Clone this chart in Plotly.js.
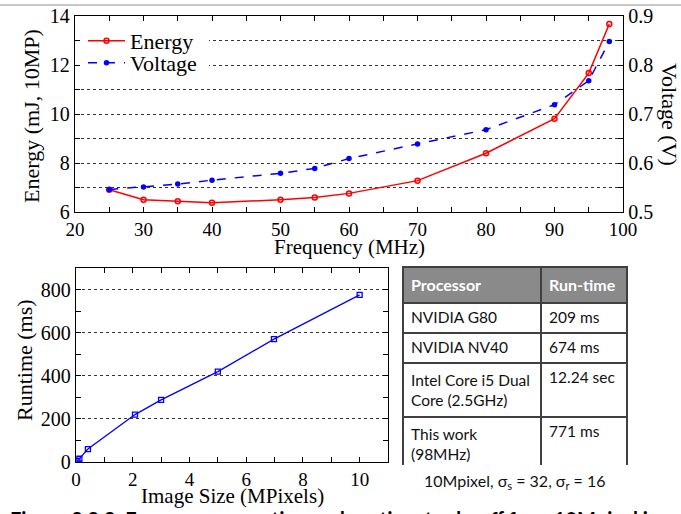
<!DOCTYPE html>
<html>
<head>
<meta charset="utf-8">
<script src="https://cdn.plot.ly/plotly-3.0.1.min.js"></script>
<style>html,body{margin:0;padding:0;background:#fff;}#chart{width:681px;height:514px;}</style>
</head>
<body>
<div id="chart"></div>
<script>
// ---- Data: Energy / Voltage vs Frequency ----
const frequency = [25, 30, 35, 40, 50, 55, 60, 70, 80, 90, 95, 98];
const energy    = [6.91, 6.50, 6.44, 6.38, 6.50, 6.59, 6.76, 7.28, 8.40, 9.81, 11.67, 13.67];
const voltage   = [0.546, 0.551, 0.557, 0.565, 0.579, 0.589, 0.609, 0.639, 0.668, 0.719, 0.768, 0.848];

// ---- Data: Runtime vs Image size ----
const imageSize = [0.05, 0.12, 0.42, 2.08, 3.0, 5.0, 6.98, 10.0];
const runtime   = [5, 15, 60, 220, 288, 419, 570, 775];

// ---- Data: Processor comparison table ----
const tableHeader = ["Processor", "Run-time"];
const processors  = ["NVIDIA G80", "NVIDIA NV40", "Intel Core i5 Dual<br>Core (2.5GHz)", "This work<br>(98MHz)"];
const runtimes    = ["209 ms", "674 ms", "12.24 sec", "771 ms"];

const W = 681, H = 514;
const px = x => x / W;
const py = y => 1 - y / H;

const serif = "Liberation Serif, Times New Roman, serif";
const sans = "Lato, Open Sans, sans-serif";
const TICK = 20, TITLE = 22;

const traces = [
  {
    x: frequency, y: energy, name: "Energy", type: "scatter", mode: "lines+markers",
    xaxis: "x", yaxis: "y", legend: "legend",
    line: {color: "#ff0000", width: 1.5},
    marker: {symbol: "circle-open", size: 5, color: "#ff0000", line: {width: 1.5}}
  },
  {
    x: frequency, y: voltage, name: "Voltage", type: "scatter", mode: "lines+markers",
    xaxis: "x", yaxis: "y2", legend: "legend2",
    line: {color: "#0000ff", width: 1.5, dash: "dash"},
    marker: {symbol: "circle", size: 5.5, color: "#0000ff"}
  },
  {
    x: imageSize, y: runtime, name: "Runtime", type: "scatter", mode: "lines+markers",
    xaxis: "x3", yaxis: "y3", showlegend: false,
    line: {color: "#0000ff", width: 1.3},
    marker: {symbol: "square-open", size: 5, color: "#0000ff", line: {width: 1.3}}
  },
  {
    type: "table",
    domain: {x: [px(403), px(627)], y: [py(466), py(267)]},
    columnwidth: [138, 86],
    header: {
      values: tableHeader.map(h => "<b>" + h + "</b>"),
      align: "left", height: 36,
      fill: {color: "#8a8a8a"},
      line: {color: "#404040", width: 1.3},
      font: {family: sans, size: 16, color: "#ffffff"}
    },
    cells: {
      values: [processors, runtimes],
      align: "left", height: 30,
      fill: {color: "#ffffff"},
      line: {color: "#404040", width: 1.3},
      font: {family: sans, size: 15.5, color: "#111111"}
    }
  }
];

const axisCommon = {
  showline: true, linecolor: "#000", linewidth: 1.3,
  ticks: "inside", ticklen: 5, tickwidth: 1, tickcolor: "#000",
  tickfont: {family: serif, size: TICK, color: "#000"},
  zeroline: false, fixedrange: true
};
const minorTicks = d => ({dtick: d, ticks: "inside", ticklen: 5, tickwidth: 1, tickcolor: "#000", showgrid: false});
const titleFont = {family: serif, size: TITLE, color: "#000"};
const legendCommon = {
  xanchor: "left", yanchor: "top", bgcolor: "rgba(0,0,0,0)", borderwidth: 0,
  font: titleFont, itemwidth: 37
};

const layout = {
  width: W, height: H,
  margin: {l: 0, r: 0, t: 0, b: 0},
  paper_bgcolor: "#fff", plot_bgcolor: "#fff",
  showlegend: true,
  legend: Object.assign({x: px(83), y: py(20)}, legendCommon),
  legend2: Object.assign({x: px(83), y: py(42)}, legendCommon),
  xaxis: Object.assign({}, axisCommon, {
    domain: [px(75), px(623)], anchor: "y",
    range: [20, 100], dtick: 10, tick0: 0, minor: minorTicks(5),
    tickfont: {family: serif, size: 19, color: "#000"},
    mirror: "ticks", showgrid: false
  }),
  yaxis: Object.assign({}, axisCommon, {
    domain: [py(212), py(16)], anchor: "x",
    range: [6, 14], dtick: 2, tick0: 0,
    minor: {dtick: 1, ticks: "inside", ticklen: 5, tickwidth: 1, tickcolor: "#000",
            showgrid: true, gridcolor: "#333", gridwidth: 1, griddash: "dot"},
    showgrid: true, gridcolor: "#333", gridwidth: 1, griddash: "dot"
  }),
  yaxis2: Object.assign({}, axisCommon, {
    overlaying: "y", side: "right", anchor: "x",
    range: [0.5, 0.9], dtick: 0.1, tick0: 0, minor: minorTicks(0.05),
    showgrid: false
  }),
  xaxis3: Object.assign({}, axisCommon, {
    domain: [px(76), px(388)], anchor: "y3",
    range: [0, 11], dtick: 2, tick0: 0, minor: minorTicks(1),
    tickfont: {family: serif, size: 19, color: "#000"},
    mirror: "ticks", showgrid: false
  }),
  yaxis3: Object.assign({}, axisCommon, {
    domain: [py(462), py(268)], anchor: "x3",
    range: [0, 900], dtick: 200, tick0: 0, minor: minorTicks(100),
    mirror: "ticks",
    showgrid: true, gridcolor: "#333", gridwidth: 1, griddash: "dot"
  }),
  shapes: [
    {type: "line", xref: "paper", yref: "paper", x0: 0, x1: 1, y0: py(5), y1: py(5),
     line: {color: "#b4b4b4", width: 1.5}},
    // white legend backing that hides the gridlines behind the legend entries
    {type: "rect", xref: "paper", yref: "paper", layer: "above",
     x0: px(80), x1: px(209), y0: py(73), y1: py(28),
     fillcolor: "#fff", line: {width: 0}}
  ],
  annotations: [
    {text: "Frequency (MHz)", xref: "paper", yref: "paper", x: px(349), y: py(247),
     xanchor: "center", yanchor: "middle", showarrow: false,
     font: {family: serif, size: 21, color: "#000"}},
    {text: "Energy (mJ, 10MP)", xref: "paper", yref: "paper", x: px(32), y: py(116),
     xanchor: "center", yanchor: "middle", textangle: -90, showarrow: false, font: titleFont},
    {text: "Voltage (V)", xref: "paper", yref: "paper", x: px(670), y: py(114),
     xanchor: "center", yanchor: "middle", textangle: 90, showarrow: false, font: titleFont},
    {text: "Image Size (MPixels)", xref: "paper", yref: "paper", x: px(232), y: py(496),
     xanchor: "center", yanchor: "middle", showarrow: false,
     font: {family: serif, size: 21, color: "#000"}},
    {text: "Runtime (ms)", xref: "paper", yref: "paper", x: px(24), y: py(360),
     xanchor: "center", yanchor: "middle", textangle: -90, showarrow: false, font: titleFont},
    {text: "10Mpixel, σ<sub>s</sub> = 32, σ<sub>r</sub> = 16", xref: "paper", yref: "paper",
     x: px(515), y: py(481), xanchor: "center", yanchor: "middle", showarrow: false,
     font: {family: sans, size: 16, color: "#111"}},
    {text: "<b>Figure 3.3.3: Energy consumption and runtime trade-off for a 10Mpixel image</b>",
     xref: "paper", yref: "paper", x: px(8), y: py(505), xanchor: "left", yanchor: "top",
     showarrow: false, font: {family: sans, size: 20, color: "#000"}}
  ]
};

Plotly.newPlot("chart", traces, layout, {displayModeBar: false, staticPlot: true});
</script>
</body>
</html>
